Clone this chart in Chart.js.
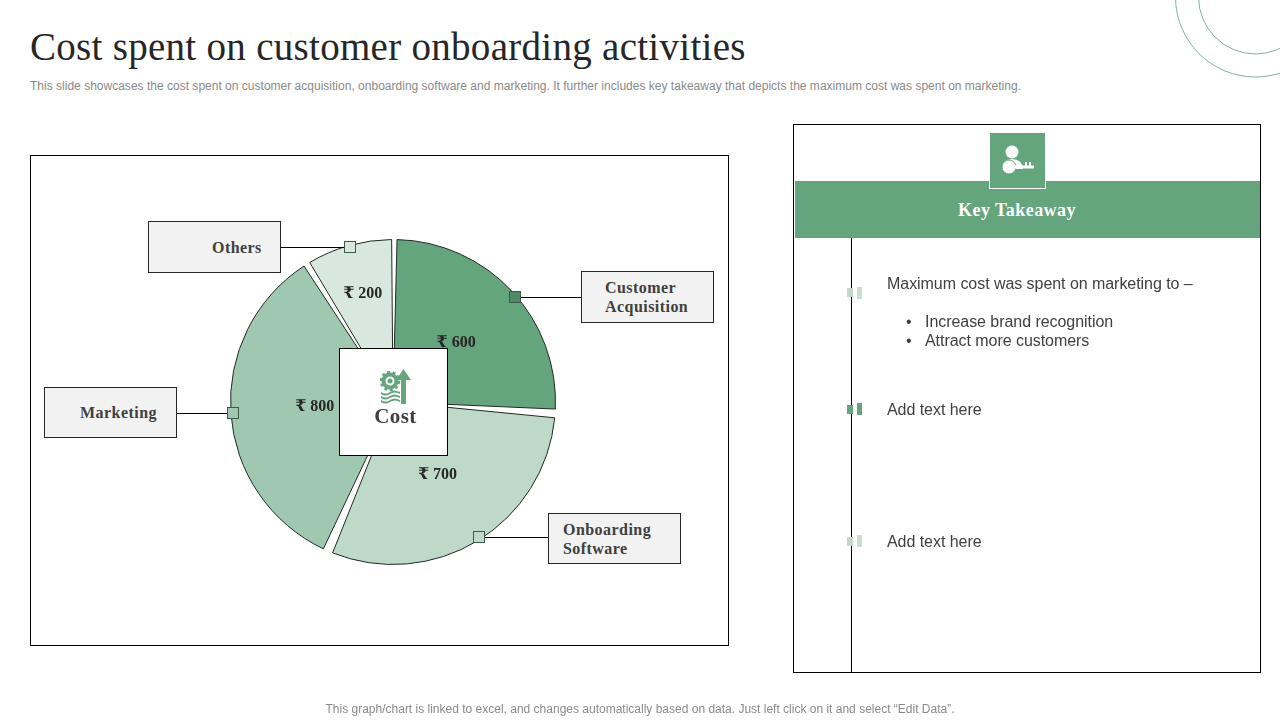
<!DOCTYPE html>
<html>
<head>
<meta charset="utf-8">
<title>Cost spent on customer onboarding activities</title>
<script src="https://cdn.jsdelivr.net/npm/chart.js@4/dist/chart.umd.min.js"></script>
<style>
  html, body { margin: 0; padding: 0; background: #fff; }
  body { width: 1280px; height: 720px; position: relative; overflow: hidden; font-family: "Liberation Sans", Arial, sans-serif; color: #404040; }
  .abs { position: absolute; }
  #title { left: 30px; top: 24px; font: 39px "Liberation Serif", serif; letter-spacing: 0.29px; color: #262626; white-space: nowrap; }
  #subtitle { left: 30px; top: 79px; font-size: 12px; color: #8a8a8a; letter-spacing: 0.01px; white-space: nowrap; }
  #footer { left: 0; width: 1280px; top: 702px; text-align: center; font-size: 12px; color: #8a8a8a; white-space: nowrap; }
  #chartFrame { left: 30px; top: 155px; width: 699px; height: 491px; border: 1px solid #000; box-sizing: border-box; }
  canvas { position: absolute; left: 0; top: 0; }
  .callout { background: #f2f2f2; border: 1px solid #262626; box-sizing: border-box; width: 133px; font: bold 16px/19px "Liberation Serif", serif; letter-spacing: 0.45px; color: #404040; white-space: nowrap; }
  .callout span { position: absolute; }
  #centerBox { left: 339px; top: 348px; width: 109px; height: 108px; background: #fff; border: 1px solid #000; box-sizing: border-box; text-align: center; }
  #centerBox div { position: absolute; left: 2px; width: 107px; top: 55px; font: bold 21px "Liberation Serif", serif; color: #404040; letter-spacing: 0.4px; }
  #panel { left: 793px; top: 124px; width: 468px; height: 549px; border: 1px solid #000; box-sizing: border-box; }
  #band { left: 795px; top: 181px; width: 465px; height: 57px; background: #65a57e; }
  #bandText { left: 795px; top: 182px; width: 444px; text-align: center; color: #fff; font: bold 18px/57px "Liberation Serif", serif; letter-spacing: 0.45px; }
  #iconBox { left: 990px; top: 133px; width: 55px; height: 55px; background: #65a57e; }
  #iconEdge { left: 989px; top: 181px; width: 55px; height: 7px; border: 1px solid #fff; border-top: 0; }
  #rail { left: 851px; top: 238px; width: 1px; height: 434px; background: #000; }
  .txt { font-size: 16px; color: #404040; white-space: nowrap; letter-spacing: -0.05px; }
  .tick { width: 6px; height: 9px; }
  .tick2 { width: 5px; height: 12px; }
</style>
</head>
<body>
<svg class="abs" style="left:1100px;top:0" width="180" height="90" fill="none" stroke="#7fb596" stroke-width="1">
  <circle cx="155.500" cy="-3" r="80"></circle>
  <circle cx="155.500" cy="-3" r="57"></circle>
</svg>

<div class="abs" id="title">Cost spent on customer onboarding activities</div>
<div class="abs" id="subtitle">This slide showcases the cost spent on customer acquisition, onboarding software and marketing. It further includes key takeaway that depicts the maximum cost was spent on marketing.</div>

<div class="abs" id="chartFrame"></div>
<div class="abs callout" style="left:148px;top:221px;height:52px"><span style="left:63px;top:16px">Others</span></div>
<div class="abs callout" style="left:581px;top:271px;height:52px"><span style="left:23px;top:6px">Customer<br>Acquisition</span></div>
<div class="abs callout" style="left:44px;top:387px;height:51px"><span style="left:35px;top:15px">Marketing</span></div>
<div class="abs callout" style="left:548px;top:513px;height:51px"><span style="left:14px;top:6px">Onboarding<br>Software</span></div>

<canvas id="costChart" width="1280" height="720"></canvas>

<div class="abs" id="centerBox">
  <svg class="abs" style="left:40px;top:19px" width="32" height="36" viewBox="0 0 32 36" fill="#65a57e">
    <path d="M21 36V12h-5L23.500 1 31 12h-5v24z"></path>
    <circle cx="10" cy="13" r="6.500" fill="none" stroke="#65a57e" stroke-width="4"></circle>
    <circle cx="10" cy="13" r="9" fill="none" stroke="#65a57e" stroke-width="2.500" stroke-dasharray="3 2.600"></circle>
    <circle cx="10" cy="13" r="2.500"></circle>
    <path d="M1 24q5 3 9 0t10 0v2q-5-3-10 0t-9 0zM1 28q5 3 9 0t10 0v2q-5-3-10 0t-9 0zM1 32q5 3 9 0t10 0v2q-5-3-10 0t-9 0z"></path>
  </svg>
  <div>Cost</div>
</div>

<div class="abs" id="panel"></div>
<div class="abs" id="band"></div>
<div class="abs" id="bandText">Key Takeaway</div>
<div class="abs" id="iconBox"></div>
<div class="abs" id="iconEdge"></div>
<svg class="abs" style="left:999px;top:143px" width="38" height="34" viewBox="0 0 38 34" fill="#fff">
  <circle cx="13" cy="9" r="6.500"></circle>
  <path d="M3 26q0-10 10-10t11 10z"></path>
  <circle cx="10" cy="24" r="7" stroke="#65a57e" stroke-width="1"></circle>
  <path d="M16 22.500h19v3H16zM26 19h2v4h-2zM30 19h2v4h-2z"></path>
</svg>
<div class="abs" id="rail"></div>

<div class="abs tick" style="left:847px;top:288px;background:#c3d8cb"></div>
<div class="abs tick2" style="left:857px;top:287px;background:#c9dfd1"></div>
<div class="abs tick" style="left:847px;top:405px;background:#65a57e"></div>
<div class="abs tick2" style="left:857px;top:403px;background:#65a57e"></div>
<div class="abs tick" style="left:847px;top:537px;background:#c3d8cb"></div>
<div class="abs tick2" style="left:857px;top:535px;background:#c9dfd1"></div>

<div class="abs txt" style="left:887px;top:275px">Maximum cost was spent on marketing to –</div>
<div class="abs txt" style="left:906px;top:313px">•</div>
<div class="abs txt" style="left:925px;top:313px">Increase brand recognition</div>
<div class="abs txt" style="left:906px;top:332px">•</div>
<div class="abs txt" style="left:925px;top:332px">Attract more customers</div>
<div class="abs txt" style="left:887px;top:401px">Add text here</div>
<div class="abs txt" style="left:887px;top:533px">Add text here</div>

<div class="abs" id="footer">This graph/chart is linked to excel, and changes automatically based on data. Just left click on it and select “Edit Data”.</div>

<script>
// Chart data
const categories = ['Customer Acquisition', 'Onboarding Software', 'Marketing', 'Others'];
const costValues = [600, 700, 800, 200];
const valueLabels = ['₹ 600', '₹ 700', '₹ 800', '₹ 200'];

// Slice styling and where the labels sit
const sliceColors = ['#65a57e', '#bfd9c9', '#a0c8b1', '#d9e8df'];
const markerColors = ['#4f8a66', '#bfd9c9', '#a0c8b1', '#d9e8df'];
const labelRadius = [0.54, 0.535, 0.49, 0.7];
const markerShift = [2.3, -1.3, 0, 0]; // degrees, the callouts are not quite mid slice
const calloutEdgeX = [581, 548, 177, 281];

// Draws the value labels and the callout markers on top of the arcs
const pieLabels = {
  id: 'pieLabels',
  afterDatasetsDraw(chart) {
    const ctx = chart.ctx;
    chart.getDatasetMeta(0).data.forEach((arc, i) => {
      const mid = (arc.startAngle + arc.endAngle) / 2;
      const dx = Math.cos(mid);
      const dy = Math.sin(mid);

      // Connector line out to the callout box
      const markAngle = mid + markerShift[i] * Math.PI / 180;
      const mx = Math.round(arc.x + Math.cos(markAngle) * (arc.outerRadius + 0.5));
      const my = Math.round(arc.y + Math.sin(markAngle) * (arc.outerRadius + 0.5));
      ctx.save();
      ctx.strokeStyle = '#000';
      ctx.lineWidth = 1;
      ctx.beginPath();
      ctx.moveTo(mx, my + 0.5);
      ctx.lineTo(calloutEdgeX[i], my + 0.5);
      ctx.stroke();

      // Small square on the edge of the slice
      ctx.fillStyle = markerColors[i];
      ctx.strokeStyle = '#3d5a48';
      ctx.fillRect(mx - 6, my - 6, 12, 12);
      ctx.strokeRect(mx - 5.5, my - 5.5, 11, 11);

      // Value label
      ctx.fillStyle = '#262626';
      ctx.font = 'bold 16px "Liberation Serif", "DejaVu Serif", serif';
      ctx.textAlign = 'center';
      ctx.textBaseline = 'middle';
      ctx.fillText(valueLabels[i], arc.x + dx * arc.outerRadius * labelRadius[i], arc.y + dy * arc.outerRadius * labelRadius[i]);
      ctx.restore();
    });
  }
};

new Chart(document.getElementById('costChart'), {
  type: 'pie',
  data: {
    labels: categories,
    datasets: [{
      data: costValues,
      backgroundColor: sliceColors,
      borderColor: '#1f2a24',
      borderWidth: 1,
      spacing: 5
    }]
  },
  options: {
    responsive: false,
    animation: false,
    layout: { padding: { left: 230, right: 724, top: 239, bottom: 155 } },
    plugins: { legend: { display: false }, tooltip: { enabled: false } }
  },
  plugins: [pieLabels]
});
</script>
</body>
</html>
